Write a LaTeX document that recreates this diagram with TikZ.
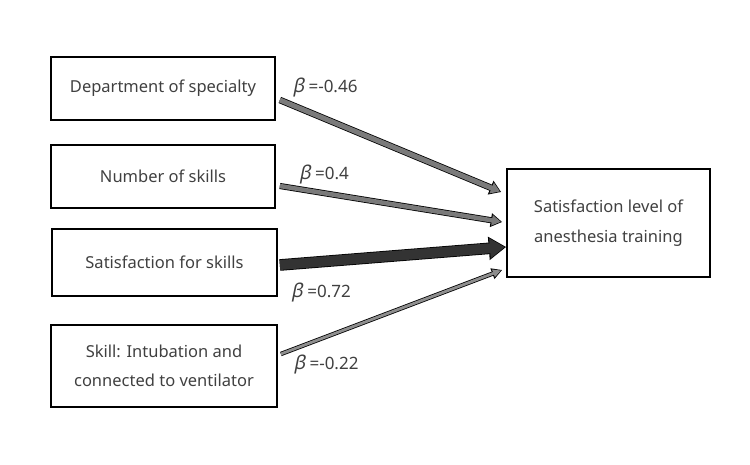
\documentclass[tikz,border=0pt]{standalone}
\usepackage{fontspec}
\setmainfont{Noto Sans}
\newfontfamily\betafont[FakeSlant=0.2]{Noto Sans}
\usepackage{tikz}
\usetikzlibrary{arrows.meta}
\definecolor{arrowgray}{HTML}{7A7A7A}
\definecolor{arrowdark}{HTML}{333333}
\definecolor{textgray}{HTML}{404040}

\begin{document}
\begin{tikzpicture}[
  x=1pt, y=1pt,
  box/.style={draw, line width=1.7pt, minimum width=224pt, minimum height=63pt,
              align=center, text=textgray, font=\fontsize{16.5}{29.5}\selectfont},
  beta/.style={text=textgray, font=\fontsize{17}{18}\selectfont},
  fat/.style n args={4}{line width=#1, draw=arrowgray,
                 -{Triangle[length=#3, width=#2]}, shorten >=1.3pt,
                 preaction={draw=black, line width=#1+1.6pt,
                 -{Triangle[length=#3+2.4pt, width=#2+3.2pt]}, shorten >=0pt},
                 #4},
]
\useasboundingbox (0,0) rectangle (750,464);

\node[box] (dept) at (163, 375.5) {Department of specialty};
\node[box] (nskill) at (163, 287.5) {Number of skills};
\node[box, minimum width=225pt, minimum height=67pt] (satsk) at (164.5, 201.5) {Satisfaction for skills};
\node[box, minimum width=226pt, minimum height=82pt] (intub) at (164, 98) {Skill: Intubation and\\connected to ventilator};
\node[box, minimum width=203pt, minimum height=108pt] (sat) at (608.5, 241)
  {Satisfaction level of\\anesthesia training};

\draw[fat={5pt}{11pt}{9pt}{draw=arrowgray}] ([xshift=4pt, yshift=-11.5pt]dept.east) -- ([xshift=-5pt, yshift=31pt]sat.west);
\draw[fat={4.5pt}{10pt}{9pt}{draw=arrowgray}] ([xshift=4pt, yshift=-9.5pt]nskill.east) -- ([xshift=-4pt, yshift=1pt]sat.west);
\draw[fat={10pt}{19pt}{15pt}{draw=arrowdark}] ([xshift=2pt, yshift=-2.5pt]satsk.east) -- ([yshift=-24pt]sat.west);
\draw[fat={2.8pt}{7.5pt}{8pt}{draw=arrowgray!85}] ([xshift=3pt, yshift=12pt]intub.east) -- ([xshift=-4pt, yshift=-47pt]sat.west);

\node[beta] (b1) at (325, 376) {{\betafont\fontsize{19}{19}\selectfont β} =-0.46};
\node[beta] (b2) at (324, 289) {{\betafont\fontsize{19}{19}\selectfont β} =0.4};
\node[beta] (b3) at (321, 171) {{\betafont\fontsize{19}{19}\selectfont β} =0.72};
\node[beta] (b4) at (326, 99) {{\betafont\fontsize{19}{19}\selectfont β} =-0.22};

\end{tikzpicture}
\end{document}
